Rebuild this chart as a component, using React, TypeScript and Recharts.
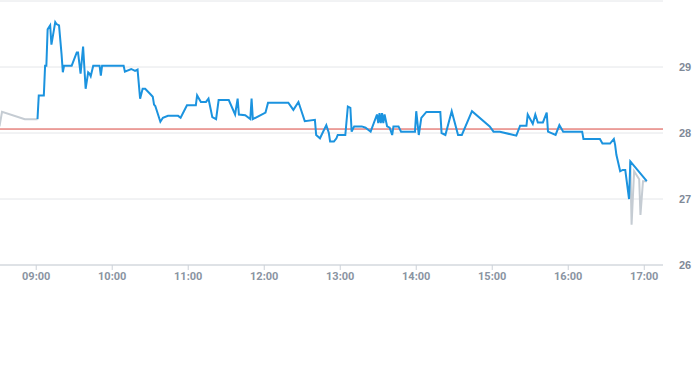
import { LineChart, Line, XAxis, YAxis, CartesianGrid, ReferenceLine } from 'recharts';

// pre-market (grey)
const preTimes = ["08:31", "08:33", "08:51", "09:01"];
const prePrices = [28.10, 28.32, 28.21, 28.21];

// regular session (blue)
const regTimes = [
    "09:01", "09:02", "09:06", "09:07", "09:08", "09:09", "09:11", "09:12", "09:15", "09:16",
    "09:18", "09:20", "09:21", "09:22", "09:28", "09:32", "09:33", "09:35", "09:37", "09:39",
    "09:41", "09:42", "09:43", "09:45", "09:50", "09:51", "09:52", "10:09", "10:10", "10:15",
    "10:18", "10:20", "10:22", "10:24", "10:26", "10:30", "10:32", "10:33", "10:34", "10:38",
    "10:40", "10:44", "10:52", "10:54", "10:59", "11:06", "11:07", "11:10", "11:14", "11:16",
    "11:19", "11:22", "11:24", "11:32", "11:37", "11:39", "11:40", "11:45", "11:49", "11:50",
    "11:51", "12:01", "12:03", "12:19", "12:23", "12:27", "12:32", "12:40", "12:41", "12:44",
    "12:49", "12:51", "12:52", "12:55", "12:57", "12:58", "13:04", "13:06", "13:08", "13:09",
    "13:11", "13:17", "13:20", "13:24", "13:29", "13:30", "13:31", "13:32", "13:33", "13:34",
    "13:35", "13:37", "13:39", "13:41", "13:42", "13:46", "13:48", "13:59", "14:00", "14:02",
    "14:04", "14:08", "14:19", "14:20", "14:23", "14:28", "14:33", "14:36", "14:44", "14:58",
    "15:01", "15:06", "15:19", "15:22", "15:27", "15:28", "15:32", "15:34", "15:36", "15:40",
    "15:43", "15:44", "15:50", "15:53", "15:56", "16:11", "16:12", "16:25", "16:27", "16:33",
    "16:36", "16:37", "16:38", "16:41", "16:43", "16:45", "16:48", "16:49", "17:02",
];
const regPrices = [
    28.21, 28.57, 28.57, 29.02, 29.02, 29.57, 29.63, 29.34, 29.68, 29.65,
    29.63, 29.19, 28.92, 29.02, 29.02, 29.22, 29.22, 28.90, 29.31, 28.67,
    28.92, 28.90, 28.86, 29.02, 29.02, 28.87, 29.02, 29.02, 28.93, 28.97,
    28.94, 28.96, 28.52, 28.67, 28.67, 28.59, 28.55, 28.43, 28.41, 28.17,
    28.23, 28.26, 28.26, 28.23, 28.42, 28.42, 28.57, 28.47, 28.47, 28.52,
    28.24, 28.21, 28.50, 28.50, 28.28, 28.52, 28.28, 28.27, 28.21, 28.52,
    28.21, 28.31, 28.46, 28.46, 28.35, 28.47, 28.18, 28.20, 27.97, 27.92,
    28.12, 28.00, 27.87, 27.87, 27.92, 27.97, 27.97, 28.40, 28.38, 28.02,
    28.10, 28.10, 28.08, 28.02, 28.28, 28.15, 28.30, 28.15, 28.30, 28.15,
    28.28, 28.10, 28.08, 27.97, 28.10, 28.10, 28.02, 28.02, 28.33, 27.97,
    28.23, 28.32, 28.32, 28.00, 27.97, 28.33, 27.97, 27.97, 28.33, 28.10,
    28.02, 28.02, 27.96, 28.11, 28.11, 28.28, 28.14, 28.28, 28.16, 28.16,
    28.31, 28.02, 27.97, 28.12, 28.02, 28.02, 27.91, 27.91, 27.84, 27.84,
    27.91, 27.82, 27.67, 27.42, 27.44, 27.44, 27.00, 27.57, 27.27,
];

// after-hours / closing prints (grey)
const postTimes = ["16:49", "16:50", "16:52", "16:56", "16:57", "16:59", "17:02"];
const postPrices = [27.57, 26.61, 27.42, 27.30, 26.76, 27.27, 27.27];

const prevClose = 28.06;
const hourTicks = ["09:00", "10:00", "11:00", "12:00", "13:00", "14:00", "15:00", "16:00", "17:00"];
const priceTicks = [26, 27, 28, 29];

const toMin = (s: string) => {
    const [h, m] = s.split(":").map(Number);
    return h * 60 + m;
};
const fmt = (v: number) => {
    const h = Math.floor(v / 60);
    const m = Math.round(v % 60);
    return `${String(h).padStart(2, "0")}:${String(m).padStart(2, "0")}`;
};
const build = (times: string[], prices: number[]) =>
    times.map((t, i) => ({ t: toMin(t), price: prices[i] }));

const preData = build(preTimes, prePrices);
const regData = build(regTimes, regPrices);
const postData = build(postTimes, postPrices);

export default function App() {
    return (
        <div style={{ position: "absolute", left: 0, top: 0, width: 693, height: 365, background: "#fff" }}>
            <LineChart width={693} height={365} margin={{ top: 1, right: 0, left: 0, bottom: 71 }}>
                <CartesianGrid vertical={false} stroke="#e4e6e9" />
                <XAxis
                    type="number"
                    dataKey="t"
                    domain={[511.4, 1034.8]}
                    allowDataOverflow
                    ticks={hourTicks.map(toMin)}
                    tickFormatter={fmt}
                    height={29}
                    stroke="#ccd1d8"
                    tickSize={5}
                    tick={{ fill: "#8a94a2", fontSize: 11, fontWeight: 700, fontFamily: "'Liberation Sans Narrow', Roboto, sans-serif" }}
                />
                <YAxis
                    orientation="right"
                    domain={[26, 30]}
                    ticks={priceTicks}
                    width={30}
                    axisLine={false}
                    tickLine={false}
                    tickMargin={10}
                    tick={{ fill: "#7f8a98", fontSize: 11, fontWeight: 700, fontFamily: "'Liberation Sans', Arial, sans-serif" }}
                />
                <ReferenceLine y={prevClose} stroke="#d9463e" strokeWidth={1} />
                <Line data={preData} dataKey="price" stroke="#c5ccd3" strokeWidth={2} dot={false} isAnimationActive={false} />
                <Line data={postData} dataKey="price" stroke="#c5ccd3" strokeWidth={2} dot={false} isAnimationActive={false} />
                <Line data={regData} dataKey="price" stroke="#1b93df" strokeWidth={2} dot={false} isAnimationActive={false} />
            </LineChart>
        </div>
    );
}
